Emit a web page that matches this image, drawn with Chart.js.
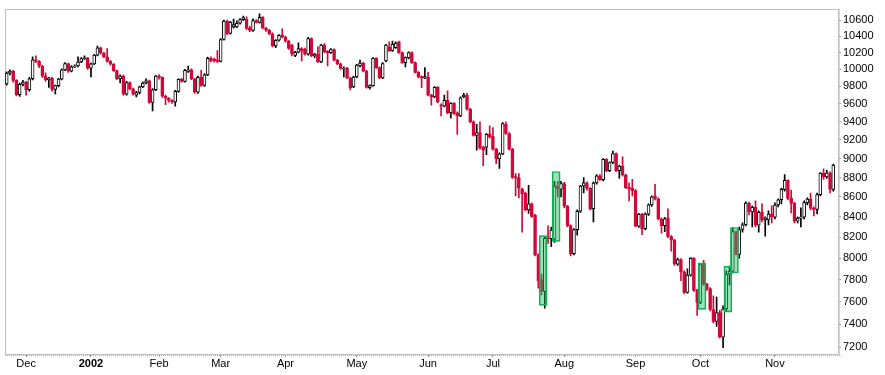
<!DOCTYPE html>
<html>
<head>
<meta charset="utf-8">
<script src="https://cdn.jsdelivr.net/npm/chart.js"></script>
<style>
  html, body { margin: 0; padding: 0; background: #fff; }
</style>
</head>
<body>
<canvas id="grafica" width="885" height="375"></canvas>
<script>
// daily candles, trading day 0 = 23 Nov 2001 ... 255 = 27 Nov 2002
const opens = [
  9830, 9955, 9980, 9870, 9705, 9825, 9850, 9762, 9890, 10114,
  10095, 10040, 9920, 9880, 9895, 9765, 9810, 9885, 9995, 10068,
  9980, 10030, 10040, 10088, 10128, 10136, 10015, 10065, 10170, 10258,
  10195, 10150, 10095, 10062, 9985, 9890, 9922, 9712, 9845, 9772,
  9700, 9730, 9795, 9840, 9865, 9618, 9762, 9920, 9905, 9687,
  9665, 9640, 9622, 9744, 9884, 9860, 9975, 9995, 9890, 9735,
  9905, 9812, 9935, 10130, 10120, 10112, 10095, 10360, 10587, 10433,
  10515, 10515, 10560, 10605, 10610, 10505, 10470, 10595, 10572, 10635,
  10501, 10475, 10430, 10281, 10350, 10412, 10390, 10340, 10290, 10165,
  10205, 10250, 10240, 10180, 10370, 10160, 10180, 10090, 10290, 10215,
  10200, 10237, 10110, 10065, 10005, 10015, 9900, 9795, 9910, 10040,
  10075, 9980, 9785, 9810, 10130, 10020, 9900, 10100, 10270, 10225,
  10260, 10330, 10200, 10080, 10135, 10200, 10080, 9965, 9915, 9900,
  9910, 9700, 9680, 9790, 9590, 9575, 9640, 9500, 9607, 9500,
  9465, 9680, 9700, 9540, 9400, 9250, 9280, 9120, 9122, 9260,
  9240, 9100, 8995, 9050, 9370, 9270, 9100, 8810, 8800, 8680,
  8640, 8470, 8530, 8415, 8030, 7800, 7690, 8195, 8185, 8180,
  8712, 8680, 8736, 8506, 8313, 8043, 8274, 8456, 8712, 8745,
  8688, 8482, 8743, 8818, 8778, 8990, 8872, 8957, 9053, 8872,
  8919, 8825, 8700, 8690, 8664, 8308, 8425, 8283, 8427, 8519,
  8610, 8581, 8379, 8312, 8390, 8207, 8172, 7942, 7986, 7872,
  7683, 7841, 7997, 7701, 7592, 7938, 7755, 7717, 7528, 7423,
  7501, 7286, 7533, 7850, 7877, 8255, 8036, 8275, 8322, 8538,
  8450, 8494, 8318, 8444, 8370, 8370, 8427, 8397, 8518, 8571,
  8678, 8771, 8586, 8537, 8358, 8386, 8396, 8542, 8579, 8486,
  8474, 8623, 8845, 8805, 8849, 8676
]
const highs = [
  9970, 9995, 9990, 9880, 9840, 9870, 9860, 9905, 10150, 10160,
  10105, 10050, 9960, 9905, 9905, 9815, 9895, 10005, 10080, 10075,
  10045, 10055, 10150, 10140, 10160, 10142, 10075, 10180, 10280, 10268,
  10205, 10250, 10105, 10070, 9992, 9935, 9935, 9860, 9855, 9780,
  9745, 9805, 9855, 9890, 9875, 9775, 9930, 9940, 9912, 9700,
  9672, 9650, 9755, 9890, 9895, 10000, 10040, 10005, 9895, 9920,
  9990, 9950, 10145, 10150, 10135, 10225, 10370, 10600, 10600, 10585,
  10612, 10590, 10620, 10650, 10640, 10525, 10615, 10605, 10680, 10645,
  10510, 10485, 10440, 10360, 10420, 10490, 10400, 10350, 10300, 10215,
  10320, 10260, 10255, 10385, 10380, 10190, 10270, 10300, 10310, 10225,
  10250, 10245, 10120, 10075, 10030, 10025, 9910, 9920, 10060, 10110,
  10085, 9990, 9820, 10140, 10140, 10030, 10080, 10300, 10330, 10340,
  10330, 10340, 10210, 10150, 10210, 10210, 10090, 9975, 9925, 10020,
  9965, 9710, 9800, 9800, 9600, 9700, 9750, 9615, 9615, 9510,
  9680, 9720, 9720, 9550, 9410, 9370, 9400, 9130, 9270, 9355,
  9335, 9110, 9060, 9390, 9400, 9280, 9110, 8840, 8840, 8690,
  8650, 8720, 8540, 8425, 8040, 7850, 8200, 8310, 8300, 8760,
  8760, 8760, 8750, 8515, 8320, 8285, 8470, 8720, 8800, 8755,
  8695, 8755, 8830, 8830, 9000, 9000, 8965, 9080, 9060, 8930,
  9018, 8835, 8745, 8780, 8675, 8435, 8435, 8440, 8530, 8612,
  8730, 8590, 8390, 8396, 8480, 8215, 8180, 8000, 7995, 7880,
  7900, 8005, 8005, 7710, 7950, 7980, 7765, 7725, 7650, 7640,
  7520, 7560, 7880, 7925, 8295, 8260, 8300, 8340, 8550, 8545,
  8510, 8560, 8460, 8530, 8400, 8460, 8510, 8540, 8580, 8690,
  8830, 8775, 8670, 8545, 8400, 8490, 8560, 8590, 8640, 8500,
  8640, 8850, 8890, 8875, 8860, 8940
]
const lows = [
  9815, 9935, 9850, 9690, 9685, 9805, 9700, 9745, 9875, 10080,
  10020, 9905, 9860, 9790, 9745, 9715, 9795, 9875, 9985, 9965,
  9970, 10020, 10030, 10080, 10115, 10000, 9910, 10055, 10160, 10180,
  10140, 10085, 10050, 9975, 9880, 9840, 9700, 9700, 9760, 9700,
  9680, 9715, 9785, 9830, 9605, 9520, 9750, 9885, 9675, 9590,
  9620, 9605, 9575, 9735, 9850, 9850, 9965, 9880, 9720, 9720,
  9800, 9800, 9925, 10090, 10085, 10080, 10090, 10350, 10420, 10425,
  10500, 10505, 10550, 10595, 10480, 10455, 10460, 10560, 10560, 10490,
  10460, 10420, 10270, 10260, 10340, 10380, 10330, 10240, 10160, 10150,
  10195, 10100, 10170, 10170, 10150, 10140, 10080, 10080, 10200, 10040,
  10190, 10100, 10055, 10000, 9910, 9890, 9760, 9785, 9900, 10030,
  9970, 9780, 9770, 9800, 10010, 9890, 9890, 10090, 10215, 10215,
  10250, 10190, 10070, 10030, 10125, 10070, 9955, 9900, 9785, 9890,
  9690, 9585, 9670, 9610, 9465, 9565, 9490, 9440, 9480, 9260,
  9455, 9670, 9530, 9390, 9240, 9090, 9100, 8925, 9040, 9220,
  9090, 8945, 8895, 9040, 9260, 9090, 8790, 8610, 8590, 8250,
  8460, 8435, 8395, 8020, 7720, 7660, 7540, 8140, 8110, 8150,
  8600, 8600, 8490, 8300, 8020, 8030, 8220, 8445, 8640, 8670,
  8470, 8350, 8730, 8770, 8765, 8860, 8860, 8945, 8860, 8790,
  8815, 8685, 8560, 8610, 8300, 8295, 8224, 8270, 8415, 8505,
  8570, 8370, 8240, 8255, 8195, 8065, 7930, 7930, 7790, 7670,
  7675, 7830, 7690, 7475, 7580, 7745, 7700, 7515, 7410, 7380,
  7280, 7197, 7510, 7750, 7860, 8030, 8000, 8250, 8310, 8420,
  8300, 8300, 8250, 8350, 8210, 8320, 8340, 8380, 8500, 8530,
  8660, 8570, 8440, 8340, 8340, 8300, 8380, 8520, 8470, 8410,
  8430, 8610, 8780, 8790, 8640, 8660
]
const closes = [
  9955, 9980, 9870, 9705, 9825, 9850, 9762, 9890, 10114, 10095,
  10040, 9920, 9880, 9895, 9765, 9810, 9885, 9995, 10068, 9980,
  10030, 10040, 10088, 10128, 10136, 10015, 10065, 10170, 10258, 10195,
  10150, 10095, 10062, 9985, 9890, 9922, 9712, 9845, 9772, 9712,
  9730, 9795, 9840, 9865, 9618, 9762, 9920, 9905, 9687, 9665,
  9640, 9622, 9744, 9884, 9860, 9989, 9995, 9890, 9735, 9905,
  9812, 9935, 10130, 10100, 10100, 10095, 10360, 10587, 10433, 10574,
  10545, 10560, 10605, 10632, 10495, 10470, 10595, 10572, 10635, 10501,
  10475, 10430, 10281, 10350, 10412, 10390, 10340, 10250, 10180, 10205,
  10250, 10225, 10180, 10370, 10160, 10180, 10090, 10290, 10210, 10200,
  10237, 10110, 10065, 10010, 10015, 9900, 9785, 9910, 10050, 10075,
  9980, 9790, 9810, 10130, 10020, 9900, 10070, 10290, 10225, 10300,
  10315, 10200, 10080, 10140, 10200, 10080, 9965, 9910, 9900, 9915,
  9700, 9680, 9790, 9620, 9575, 9640, 9500, 9607, 9490, 9465,
  9670, 9700, 9540, 9400, 9250, 9280, 9110, 9090, 9260, 9230,
  9100, 8995, 9050, 9380, 9270, 9100, 8800, 8795, 8690, 8630,
  8470, 8530, 8405, 8030, 7790, 7690, 8190, 8185, 8270, 8712,
  8680, 8736, 8506, 8313, 8043, 8274, 8456, 8712, 8745, 8688,
  8482, 8743, 8818, 8778, 8990, 8872, 8957, 9053, 8872, 8919,
  8825, 8695, 8680, 8664, 8308, 8425, 8283, 8427, 8519, 8602,
  8581, 8379, 8312, 8380, 8207, 8172, 7942, 7986, 7872, 7683,
  7841, 7997, 7701, 7592, 7938, 7755, 7717, 7528, 7423, 7501,
  7286, 7533, 7850, 7877, 8255, 8036, 8275, 8322, 8538, 8450,
  8494, 8318, 8444, 8368, 8390, 8427, 8397, 8518, 8571, 8678,
  8771, 8586, 8537, 8358, 8386, 8398, 8542, 8579, 8486, 8474,
  8623, 8845, 8805, 8849, 8676, 8931
]

// first trading day of each month and its label
const monthStarts = [6, 26, 47, 66, 86, 108, 130, 150, 172, 194, 214, 237]
const monthLabels = ['Dec', '2002', 'Feb', 'Mar', 'Apr', 'May', 'Jun', 'Jul', 'Aug', 'Sep', 'Oct', 'Nov']

const yTicks = [7200, 7400, 7600, 7800, 8000, 8200, 8400, 8600, 8800, 9000,
  9200, 9400, 9600, 9800, 10000, 10200, 10400, 10600]

// green pattern boxes: first day of the two-day pattern, low and high of the box
const boxStart = [165, 169, 214, 222, 224]
const boxLow = [7565, 8160, 7530, 7505, 7860]
const boxHigh = [8215, 8863, 7955, 7925, 8295]

const rojo = '#d2083a'
const fuente = 'Liberation Sans, Arial, sans-serif'

const subida = closes.map( (c, i) => c >= opens[i] )

const marco = {
    id: 'marco',
    beforeDatasetsDraw(chart) {
        const { ctx, chartArea: a } = chart
        ctx.save()
        ctx.strokeStyle = '#c0c0c0'
        ctx.lineWidth = 1
        ctx.strokeRect(Math.round(a.left) + 0.5, Math.round(a.top) + 0.5,
            Math.round(a.width) - 1, Math.round(a.height) - 1)
        ctx.strokeStyle = '#b0b0b0'
        ctx.setLineDash([1, 1])
        ctx.beginPath()
        ctx.moveTo(a.left, Math.round(a.bottom) + 0.5)
        ctx.lineTo(a.right + 3, Math.round(a.bottom) + 0.5)
        ctx.moveTo(Math.round(a.right) + 0.5, a.top)
        ctx.lineTo(Math.round(a.right) + 0.5, a.bottom)
        ctx.stroke()
        ctx.restore()
    }
}

const config = {
    type: 'bar',
    data: {
        datasets: [
            {
                label: 'cajas',
                data: boxStart.map( (s, k) => ({ x: s + 0.5, y: [boxLow[k], boxHigh[k]] }) ),
                backgroundColor: 'rgba(30, 190, 100, 0.45)',
                borderColor: 'rgb(25, 170, 85)',
                borderWidth: 1,
                borderSkipped: false,
                barThickness: 8,
                grouped: false,
                order: 0
            },
            {
                label: 'cuerpos',
                data: opens.map( (o, i) => ({ x: i, y: [o, closes[i]] }) ),
                backgroundColor: subida.map( (u) => u ? '#ffffff' : rojo ),
                borderColor: subida.map( (u) => u ? '#000000' : rojo ),
                borderWidth: 1,
                borderSkipped: false,
                barThickness: 3,
                grouped: false,
                order: 1
            },
            {
                label: 'mechas',
                data: lows.map( (l, i) => ({ x: i, y: [l, highs[i]] }) ),
                backgroundColor: subida.map( (u) => u ? '#000000' : rojo ),
                borderWidth: 0,
                barThickness: 1,
                grouped: false,
                order: 2
            }
        ]
    },
    options: {
        responsive: false,
        animation: false,
        devicePixelRatio: 1,
        layout: { padding: { left: 5, top: 3, right: 0, bottom: 2 } },
        plugins: {
            legend: { display: false },
            tooltip: { enabled: false }
        },
        scales: {
            x: {
                type: 'linear',
                offset: false,
                min: -0.52,
                max: 256.76,
                afterBuildTicks: (s) => { s.ticks = monthStarts.map( (v) => ({ value: v }) ) },
                afterFit: (s) => { s.height = 18 },
                border: { display: false },
                grid: { offset: false, drawOnChartArea: false, tickLength: 2, color: '#999999' },
                ticks: {
                    autoSkip: false,
                    maxRotation: 0,
                    minRotation: 0,
                    padding: 0,
                    color: '#000000',
                    font: (c) => ({ family: fuente, size: 11, weight: (c.tick && c.tick.label === '2002') ? 'bold' : 'normal' }),
                    callback: (v) => monthLabels[monthStarts.indexOf(v)]
                }
            },
            y: {
                type: 'logarithmic',
                position: 'right',
                min: 7134,
                max: 10745,
                afterBuildTicks: (s) => { s.ticks = yTicks.map( (v) => ({ value: v }) ) },
                afterFit: (s) => { s.width = 46 },
                border: { display: false },
                grid: { drawOnChartArea: false, tickLength: 2, color: '#999999' },
                ticks: {
                    padding: 2,
                    color: '#000000',
                    font: { family: fuente, size: 11 },
                    callback: (v) => String(v)
                }
            }
        }
    },
    plugins: [marco]
}

window.graficaUno = new Chart(document.getElementById('grafica'), config)
</script>
</body>
</html>
